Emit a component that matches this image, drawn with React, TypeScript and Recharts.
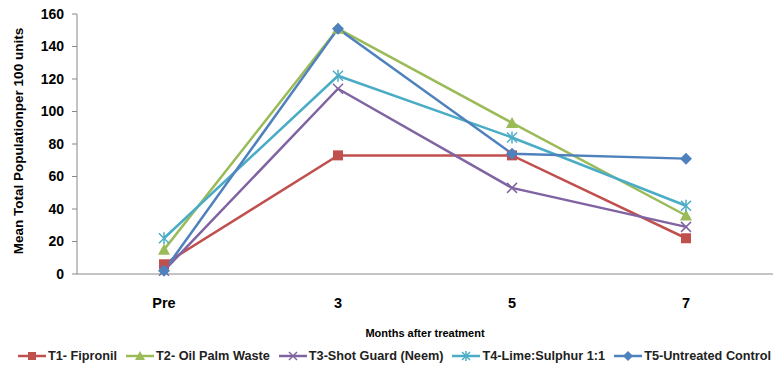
import { LineChart, Line, XAxis, YAxis, Legend } from 'recharts'

const categories = ['Pre', '3', '5', '7']
const t1Fipronil = [6, 73, 73, 22]
const t2OilPalm = [15, 151, 93, 36]
const t3ShotGuard = [2, 114, 53, 29]
const t4LimeSulphur = [22, 122, 84, 42]
const t5Control = [2, 151, 74, 71]
const yTicks = [0, 20, 40, 60, 80, 100, 120, 140, 160]

const data = categories.map((month, i) => ({
  month,
  t1: t1Fipronil[i],
  t2: t2OilPalm[i],
  t3: t3ShotGuard[i],
  t4: t4LimeSulphur[i],
  t5: t5Control[i],
}))

type Marker = 'square' | 'triangle' | 'cross' | 'star' | 'diamond'

const series: { key: string; name: string; color: string; marker: Marker }[] = [
  { key: 't1', name: 'T1- Fipronil', color: '#C0504D', marker: 'square' },
  { key: 't2', name: 'T2- Oil Palm Waste', color: '#9BBB59', marker: 'triangle' },
  { key: 't3', name: 'T3-Shot Guard (Neem)', color: '#8064A2', marker: 'cross' },
  { key: 't4', name: 'T4-Lime:Sulphur 1:1', color: '#4BACC6', marker: 'star' },
  { key: 't5', name: 'T5-Untreated Control', color: '#4F81BD', marker: 'diamond' },
]

function markerShape(kind: Marker, color: string, cx: number, cy: number, s = 5) {
  switch (kind) {
    case 'square':
      return <rect x={cx - s} y={cy - s} width={s * 2} height={s * 2} fill={color} />
    case 'triangle':
      return (
        <polygon
          points={`${cx},${cy - s - 1} ${cx + s + 1},${cy + s} ${cx - s - 1},${cy + s}`}
          fill={color}
        />
      )
    case 'diamond':
      return (
        <polygon
          points={`${cx},${cy - s - 1} ${cx + s + 1},${cy} ${cx},${cy + s + 1} ${cx - s - 1},${cy}`}
          fill={color}
        />
      )
    case 'cross':
      return (
        <g stroke={color} strokeWidth={1.5}>
          <line x1={cx - s} y1={cy - s} x2={cx + s} y2={cy + s} />
          <line x1={cx - s} y1={cy + s} x2={cx + s} y2={cy - s} />
        </g>
      )
    case 'star':
      return (
        <g stroke={color} strokeWidth={1.5}>
          <line x1={cx - s} y1={cy - s} x2={cx + s} y2={cy + s} />
          <line x1={cx - s} y1={cy + s} x2={cx + s} y2={cy - s} />
          <line x1={cx} y1={cy - s - 1} x2={cx} y2={cy + s + 1} />
        </g>
      )
  }
}

const makeDot = (kind: Marker, color: string) => (props: any) => {
  const { cx, cy, index } = props
  return <g key={`${kind}-${index}`}>{markerShape(kind, color, cx, cy)}</g>
}

function ChartLegend() {
  return (
    <div
      style={{
        display: 'flex',
        alignItems: 'center',
        height: 26,
        paddingLeft: 18,
        gap: 9,
        fontFamily: '"Liberation Sans", Arial, sans-serif',
        fontWeight: 'bold',
        fontSize: 12.7,
        color: '#222',
        whiteSpace: 'nowrap',
      }}
    >
      {series.map((s) => (
        <div key={s.key} style={{ display: 'flex', alignItems: 'center' }}>
          <svg width={28} height={14}>
            <line x1={0} y1={7} x2={28} y2={7} stroke={s.color} strokeWidth={2.5} />
            {markerShape(s.marker, s.color, 14, 7, 4)}
          </svg>
          <span style={{ marginLeft: 2 }}>{s.name}</span>
        </div>
      ))}
    </div>
  )
}

export default function App() {
  const axisFont = { fontFamily: '"Liberation Sans", Arial, sans-serif', fontWeight: 'bold' as const }
  return (
    <div style={{ position: 'absolute', left: 0, top: 0, width: 776, height: 369, background: '#fff' }}>
      <LineChart width={776} height={369} data={data} margin={{ top: 14, right: 3, left: 0, bottom: 0 }}>
        <XAxis
          dataKey="month"
          padding={{ left: 87, right: 87 }}
          height={69}
          tickLine={false}
          axisLine={{ stroke: '#888' }}
          tickMargin={18}
          tick={{ ...axisFont, fontSize: 14.5, fill: '#000' }}
          label={{
            value: 'Months after treatment',
            position: 'insideBottom',
            offset: 6,
            style: { ...axisFont, fontSize: 11, fill: '#000' },
          }}
        />
        <YAxis
          domain={[0, 160]}
          ticks={yTicks}
          width={77}
          tickSize={5}
          tickMargin={8}
          axisLine={{ stroke: '#888' }}
          tickLine={{ stroke: '#888' }}
          tick={{ ...axisFont, fontSize: 14, fill: '#000' }}
          label={{
            value: 'Mean Total Populationper  100 units',
            angle: -90,
            position: 'center',
            dx: -20,
            dy: -3,
            style: { ...axisFont, fontSize: 13.5, fill: '#000', textAnchor: 'middle', whiteSpace: 'pre' },
          }}
        />
        <Legend verticalAlign="bottom" content={() => <ChartLegend />} />
        {series.map((s) => (
          <Line
            key={s.key}
            type="linear"
            dataKey={s.key}
            name={s.name}
            stroke={s.color}
            strokeWidth={2.5}
            dot={makeDot(s.marker, s.color)}
            activeDot={false}
            isAnimationActive={false}
          />
        ))}
      </LineChart>
    </div>
  )
}
